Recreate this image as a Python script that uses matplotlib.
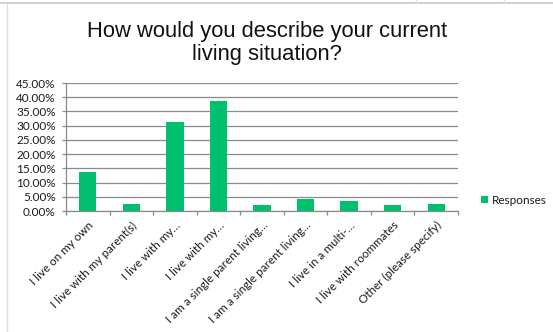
import numpy as np
import matplotlib.pyplot as plt
import matplotlib.transforms as mtransforms
from matplotlib.lines import Line2D
from matplotlib.ticker import FuncFormatter, FixedLocator

categories = [
    "I live on my own",
    "I live with my parent(s)",
    "I live with my\u2026",
    "I live with my\u2026",
    "I am a single parent living\u2026",
    "I am a single parent living\u2026",
    "I live in a multi-\u2026",
    "I live with roommates",
    "Other (please specify)",
]
responses = [13.7, 2.5, 31.2, 38.7, 2.1, 4.2, 3.5, 2.1, 2.5]
y_ticks = [0, 5, 10, 15, 20, 25, 30, 35, 40, 45]

green = "#00bf6f"
grid_grey = "#8a8a8a"
text_col = "#1a1a1a"
label_font = ["Lato", "DejaVu Sans"]

fig = plt.figure(figsize=(5.53, 3.32), dpi=100)
W, H = 553, 332
ax = fig.add_axes([66 / W, 1 - 211 / H, (458 - 66) / W, (211 - 83) / H])

x = np.arange(len(categories))
ax.bar(x, responses, width=0.4, color=green, zorder=3, label="Responses")

ax.set_xlim(-0.5, len(categories) - 0.5)
ax.set_ylim(0, 45)
ax.set_yticks(y_ticks)
ax.yaxis.set_major_formatter(FuncFormatter(lambda v, p: f"{v:.2f}%"))
ax.grid(axis="y", color=grid_grey, linewidth=0.9, zorder=0)

ax.set_xticks(x)
ax.set_xticklabels(categories, rotation=45, ha="right", va="top",
                   rotation_mode="anchor", fontsize=8.4, family=label_font,
                   color=text_col)
# nudge the slanted labels a little to the right
shift = mtransforms.ScaledTranslation(3 / 100, 0, fig.dpi_scale_trans)
for lab in ax.get_xticklabels():
    lab.set_transform(lab.get_transform() + shift)
ax.xaxis.set_minor_locator(FixedLocator(np.arange(-0.5, len(categories), 1.0)))
ax.tick_params(axis="x", which="major", length=0, pad=6.2)
ax.tick_params(axis="x", which="minor", length=3, color=grid_grey, width=0.9)
ax.tick_params(axis="y", length=3, color=grid_grey, width=0.9, pad=4.5,
               labelsize=8.5, labelcolor=text_col)
for lab in ax.get_yticklabels():
    lab.set_family(label_font)

for side in ["top", "right"]:
    ax.spines[side].set_visible(False)
for side in ["left", "bottom"]:
    ax.spines[side].set_color(grid_grey)
    ax.spines[side].set_linewidth(0.9)

fig.text(267 / W, 1 - 43 / H, "How would you describe your current\nliving situation?",
         ha="center", va="center", fontsize=15.8, family="Liberation Sans",
         linespacing=1.15, color="#111111")

leg = ax.legend(loc="center left", bbox_to_anchor=(470 / W, 1 - 200 / H),
                bbox_transform=fig.transFigure, frameon=False,
                handlelength=0.6, handleheight=0.6, handletextpad=0.35,
                prop={"family": label_font, "size": 8.5})
for t in leg.get_texts():
    t.set_color(text_col)

# sheet borders around the chart
border = "#c8c8c8"
fig.add_artist(Line2D([0, 1], [1 - 3 / H, 1 - 3 / H], color=border, lw=1.2))
fig.add_artist(Line2D([7 / W, 7 / W], [0, 1 - 3 / H], color="#dddddd", lw=1))
for xv in [416, 504]:
    fig.add_artist(Line2D([xv / W, xv / W], [1 - 3 / H, 1], color="#dddddd", lw=1))

fig.savefig("out.png", dpi=100, facecolor="white")
